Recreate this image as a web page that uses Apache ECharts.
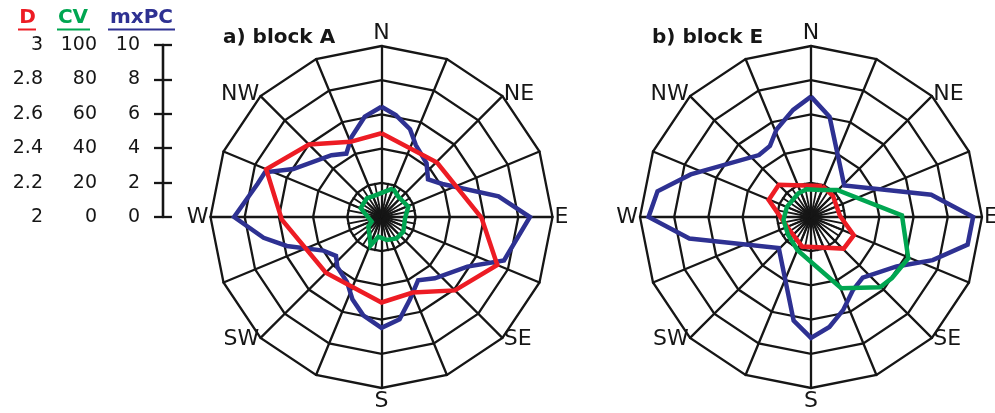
<!DOCTYPE html>
<html>
<head>
<meta charset="utf-8">
<script src="https://cdn.jsdelivr.net/npm/echarts@6/dist/echarts.min.js"></script>
<style>
  html, body { margin: 0; padding: 0; background: #fff; }
  #chart { width: 995px; height: 413px; }
</style>
</head>
<body>
<div id="chart"></div>
<script>
// Compass labels, counter-clockwise from north in 45° steps
const compass = ['N', 'NW', 'W', 'SW', 'S', 'SE', 'E', 'NE'];

// Shared scale: one ring per tick, three variables read on the same rings
const dTicks = ['2', '2.2', '2.4', '2.6', '2.8', '3'];
const cvTicks = ['0', '20', '40', '60', '80', '100'];
const mxpcTicks = ['0', '2', '4', '6', '8', '10'];
const panelTitles = ['a) block A', 'b) block E'];

// Block A — bearing (deg, clockwise from N) and value
const aDDir = [0, 45.5, 90.5, 112.5, 135, 157.5, 180, 225, 268.5, 292.5, 315, 337.5];
const aDVal = [2.49, 2.455, 2.585, 2.733, 2.607, 2.478, 2.50, 2.46, 2.583, 2.73, 2.60, 2.476];

const aCvDir = [22, 40, 69, 93, 124, 145, 167, 189, 201, 217, 234, 245, 293, 321.5, 347.5];
const aCvVal = [18, 15.4, 16.8, 13.8, 15.4, 15.3, 13.8, 11.7, 17.8, 11.9, 9.5, 6.4, 13.2, 13.9, 13.2];

const aMxDir = [0, 8, 18, 25.5, 40, 51, 61.5, 80, 90, 109.5, 120, 139, 150, 161, 170, 180,
                190.5, 199.5, 208, 221.5, 229.5, 240, 253, 260, 270, 285, 291, 298.5, 321, 331, 339.5, 350.5];
const aMxVal = [6.45, 6.02, 5.4, 4.66, 4.1, 3.5, 4.05, 6.95, 8.68, 7.6, 5.8, 4.75, 4.28, 5.1, 6.08, 6.48,
                5.85, 5.1, 4.3, 3.9, 3.5, 3.93, 5.79, 7.0, 8.62, 7.5, 7.3, 5.87, 4.65, 4.24, 5.0, 5.95];

// Block E
const eDDir = [20, 46, 88, 113, 134, 197, 242, 292, 315];
const eDVal = [2.193, 2.178, 2.17, 2.272, 2.266, 2.18, 2.148, 2.267, 2.266];

const eCvDir = [18, 44, 89, 113, 127, 135.5, 157, 202, 232, 264, 293, 332, 351];
const eCvVal = [16.6, 22, 53.2, 61.8, 59.3, 57.6, 45.3, 21, 17, 16.2, 15.3, 15.7, 16.4];

const eMxDir = [0, 10.5, 46.5, 79.5, 90, 100, 109.5, 120, 139.5, 150, 161, 170.5, 180,
                189.5, 226, 260, 270, 279.5, 289.5, 320, 330, 338.5, 350.5];
const eMxVal = [7.04, 5.96, 2.68, 7.15, 9.48, 9.3, 7.55, 5.78, 4.66, 4.92, 5.76, 6.52, 7.07,
                6.15, 2.62, 7.22, 9.5, 9.1, 7.46, 4.73, 4.8, 5.5, 6.35];

// Styling
const FONT = 'DejaVu Sans';
const INK = '#161616';
const RED = '#ED1C24';
const GREEN = '#00A651';
const BLUE = '#2E3192';
const R = 171;
const centers = [[381.5, 217], [811, 217]];

// Closed polar path: [radius value, bearing]
function loop(dirs, vals) {
  const pts = dirs.map((d, i) => [vals[i], d]);
  pts.push(pts[0]);
  return pts;
}

const spokes16 = Array.from({ length: 16 }, (_, i) => ({ name: i % 2 === 0 ? compass[i / 2] : '', max: 10 }));
const spokes32 = Array.from({ length: 32 }, () => ({ name: '', max: 1 }));

const radar = [];
const polar = [];
const angleAxis = [];
const radiusAxis = [];
const scales = [[2, 3], [0, 100], [0, 10]]; // D, CV, mxPC

centers.forEach(c => {
  radar.push({
    center: c, radius: R, startAngle: 90, splitNumber: 5, shape: 'polygon',
    indicator: spokes16, nameGap: 2, silent: true,
    axisName: { color: INK, fontFamily: FONT, fontSize: 22 },
    axisLine: { lineStyle: { color: INK, width: 2.3 } },
    splitLine: { lineStyle: { color: INK, width: 2.3 } },
    splitArea: { show: false }
  });
  radar.push({
    center: c, radius: 34, startAngle: 90, splitNumber: 1, shape: 'polygon',
    indicator: spokes32, silent: true,
    axisName: { show: false },
    axisLine: { lineStyle: { color: INK, width: 1.8 } },
    splitLine: { show: false },
    splitArea: { show: false }
  });
  scales.forEach(s => {
    const idx = polar.length;
    polar.push({ center: c, radius: R });
    angleAxis.push({ polarIndex: idx, type: 'value', min: 0, max: 360, startAngle: 90, clockwise: true, show: false });
    radiusAxis.push({ polarIndex: idx, type: 'value', min: s[0], max: s[1], show: false });
  });
});

function lineSeries(polarIndex, data, color, z) {
  return {
    type: 'line', coordinateSystem: 'polar', polarIndex, data,
    symbol: 'none', showSymbol: false, silent: true, z,
    lineStyle: { color, width: 4.5, join: 'miter' }
  };
}

const series = [
  lineSeries(2, loop(aMxDir, aMxVal), BLUE, 3),
  lineSeries(0, loop(aDDir, aDVal), RED, 4),
  lineSeries(1, loop(aCvDir, aCvVal), GREEN, 5),
  lineSeries(5, loop(eMxDir, eMxVal), BLUE, 3),
  lineSeries(3, loop(eDDir, eDVal), RED, 4),
  lineSeries(4, loop(eCvDir, eCvVal), GREEN, 5)
];

const tickFont = { fontFamily: FONT, fontSize: 19, color: INK };
const scaleAxisBase = {
  type: 'value', min: 0, max: 10, interval: 2, position: 'left',
  axisLine: { show: true, lineStyle: { color: INK, width: 2.3 } },
  splitLine: { show: false }
};

function header(text, x, color) {
  return { type: 'text', x, y: 17.5, style: { text, fill: color, font: 'bold 20px "' + FONT + '"', align: 'center', verticalAlign: 'middle' } };
}
function underline(x1, x2, color) {
  return { type: 'line', shape: { x1, y1: 29.5, x2, y2: 29.5 }, style: { stroke: color, lineWidth: 2 } };
}

const option = {
  animation: false,
  backgroundColor: '#fff',
  radar, polar, angleAxis, radiusAxis,
  grid: { left: 163, top: 45, width: 10, height: 172, outerBoundsMode: 'none' },
  xAxis: { type: 'value', show: false },
  yAxis: [
    Object.assign({}, scaleAxisBase, {
      axisTick: { show: true, length: 9, inside: false, lineStyle: { color: INK, width: 2.3 } },
      axisLabel: Object.assign({
        margin: 23,
        formatter: (v, i) => '{d|' + dTicks[i] + '}{c|' + cvTicks[i] + '}{m|' + mxpcTicks[i] + '}',
        rich: {
          d: Object.assign({ width: 40, align: 'right' }, tickFont),
          c: Object.assign({ width: 54, align: 'right' }, tickFont),
          m: Object.assign({ width: 43, align: 'right' }, tickFont)
        }
      }, tickFont)
    }),
    Object.assign({}, scaleAxisBase, {
      axisTick: { show: true, length: 9, inside: true, lineStyle: { color: INK, width: 2.3 } },
      axisLabel: { show: false }
    })
  ],
  graphic: [
    header('D', 27.5, RED), underline(18, 36, RED),
    header('CV', 73, GREEN), underline(57, 90, GREEN),
    header('mxPC', 141.5, BLUE), underline(108, 175, BLUE),
    { type: 'text', x: 223, y: 37.5, style: { text: panelTitles[0], fill: INK, font: 'bold 20px "' + FONT + '"', align: 'left', verticalAlign: 'middle' } },
    { type: 'text', x: 652, y: 37.5, style: { text: panelTitles[1], fill: INK, font: 'bold 20px "' + FONT + '"', align: 'left', verticalAlign: 'middle' } }
  ],
  series
};

const chart = echarts.init(document.getElementById('chart'), null, { renderer: 'canvas' });
chart.setOption(option);
</script>
</body>
</html>
